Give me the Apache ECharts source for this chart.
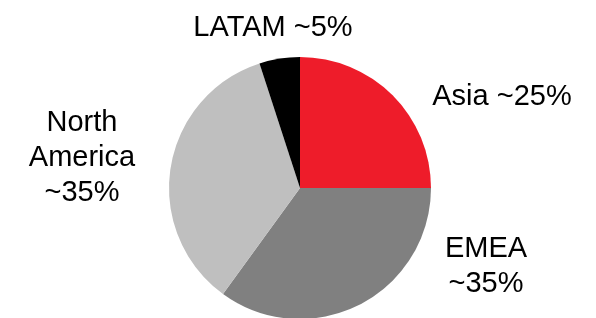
<!DOCTYPE html>
<html>
<head>
<meta charset="utf-8">
<script src="https://cdn.jsdelivr.net/npm/echarts@6/dist/echarts.min.js"></script>
<style>
  html,body{margin:0;padding:0;background:#fff;}
  #chart{width:596px;height:318px;}
</style>
</head>
<body>
<div id="chart"></div>
<script>
// regions, clockwise from 12 o'clock
var regions = ['Asia', 'EMEA', 'North America', 'LATAM'];
var shares = [25, 35, 35, 5];
var labelTexts = ['Asia ~25%', 'EMEA\n~35%', 'North\nAmerica\n~35%', 'LATAM ~5%'];
var colors = ['#ee1c2a', '#808080', '#bfbfbf', '#000000'];

// where each label sits (centre of text block)
var labelPos = [[502, 97], [486, 266], [82, 158], [273, 28]];

var chart = echarts.init(document.getElementById('chart'));
chart.setOption({
    animation: false,
    series: [{
        type: 'pie',
        center: [300, 188],
        radius: 131,
        startAngle: 90,
        clockwise: true,
        silent: true,
        data: regions.map(function (r, i) {
            return { name: r, value: shares[i], itemStyle: { color: colors[i] } };
        }),
        label: {
            show: true,
            position: 'outside',
            formatter: function (p) { return labelTexts[p.dataIndex]; },
            fontFamily: 'Liberation Sans, Arial, sans-serif',
            fontSize: 29,
            lineHeight: 35,
            color: '#000',
            align: 'center'
        },
        labelLine: { show: false },
        labelLayout: function (p) {
            var pos = labelPos[p.dataIndex];
            return { x: pos[0], y: pos[1], align: 'center', verticalAlign: 'middle' };
        }
    }]
});
</script>
</body>
</html>
